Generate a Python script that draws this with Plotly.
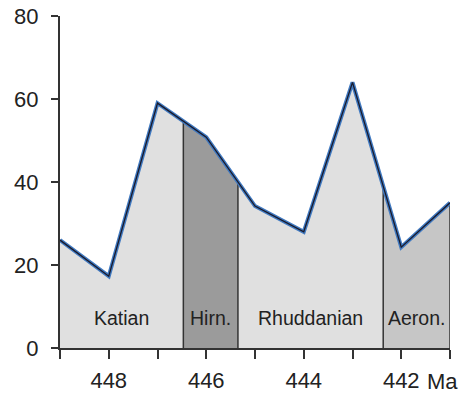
import numpy as np
import plotly.graph_objects as go

# Data
ages = [449, 448, 447, 446, 445, 444, 443, 442, 441]
values = [26, 17.3, 59, 50.8, 34.2, 28, 64, 24.3, 35]
stage_names = ["Katian", "Hirn.", "Rhuddanian", "Aeron."]
stage_bounds = [449, 446.47, 445.35, 442.37, 441]
stage_colors = ["#e0e0e0", "#9b9b9b", "#e0e0e0", "#c6c6c6"]
y_ticks = [0, 20, 40, 60, 80]
x_ticks = [449, 448, 447, 446, 445, 444, 443, 442, 441]
x_ticklabels = ["", "448", "", "446", "", "444", "", "442", ""]

ages_inc = ages[::-1]
vals_inc = values[::-1]

def interp(a):
    return float(np.interp(a, ages_inc, vals_inc))

fig = go.Figure()

# stage fills
for i, name in enumerate(stage_names):
    lo, hi = stage_bounds[i], stage_bounds[i + 1]  # lo > hi (older to younger)
    xs = [lo] + [a for a in ages if hi < a < lo] + [hi]
    ys = [interp(a) for a in xs]
    fig.add_trace(go.Scatter(x=xs, y=ys, mode="lines", fill="tozeroy",
                             fillcolor=stage_colors[i], line=dict(width=0),
                             hoverinfo="skip", showlegend=False))

# boundary lines
for b in stage_bounds[1:]:
    fig.add_trace(go.Scatter(x=[b, b], y=[0, interp(b)], mode="lines",
                             line=dict(color="#333333", width=1.5),
                             hoverinfo="skip", showlegend=False))

# line (blue with dark core)
fig.add_trace(go.Scatter(x=ages, y=values, mode="lines",
                         line=dict(color="#4079c0", width=4),
                         hoverinfo="skip", showlegend=False))
fig.add_trace(go.Scatter(x=ages, y=values, mode="lines",
                         line=dict(color="#1a1a2a", width=1.3),
                         hoverinfo="skip", showlegend=False))

# stage labels
for i, name in enumerate(stage_names):
    lo, hi = stage_bounds[i], stage_bounds[i + 1]
    fig.add_annotation(x=(lo + hi) / 2, y=7.2, text=name, showarrow=False,
                       font=dict(family="Liberation Sans, Arial", size=19.5, color="#222222"),
                       xanchor="center", yanchor="middle")

fig.add_annotation(x=441.15, y=0, yref="y", text="Ma", showarrow=False,
                   font=dict(family="Liberation Sans, Arial", size=22, color="#222222"),
                   xanchor="center", yanchor="top", yshift=-19)

fig.update_layout(
    width=465, height=394,
    margin=dict(l=60, r=15, t=16, b=46, autoexpand=False),
    paper_bgcolor="white", plot_bgcolor="white",
    font=dict(family="Liberation Sans, Arial", size=22, color="#222222"),
)
fig.update_xaxes(range=[449, 441], tickvals=x_ticks, ticktext=x_ticklabels,
                 ticks="outside", ticklen=9, tickwidth=2, tickcolor="#333333",
                 showline=True, linecolor="#333333", linewidth=2, automargin=False,
                 showgrid=False, zeroline=False, ticklabelstandoff=3)
fig.update_yaxes(range=[0, 80], tickvals=y_ticks, automargin=False,
                 ticks="outside", ticklen=7, tickwidth=2, tickcolor="#333333",
                 showline=True, linecolor="#333333", linewidth=2,
                 showgrid=False, zeroline=False, ticklabelstandoff=8)

fig.write_html("out.html", config={"displayModeBar": False},
               post_script="document.body.style.margin='0';")
